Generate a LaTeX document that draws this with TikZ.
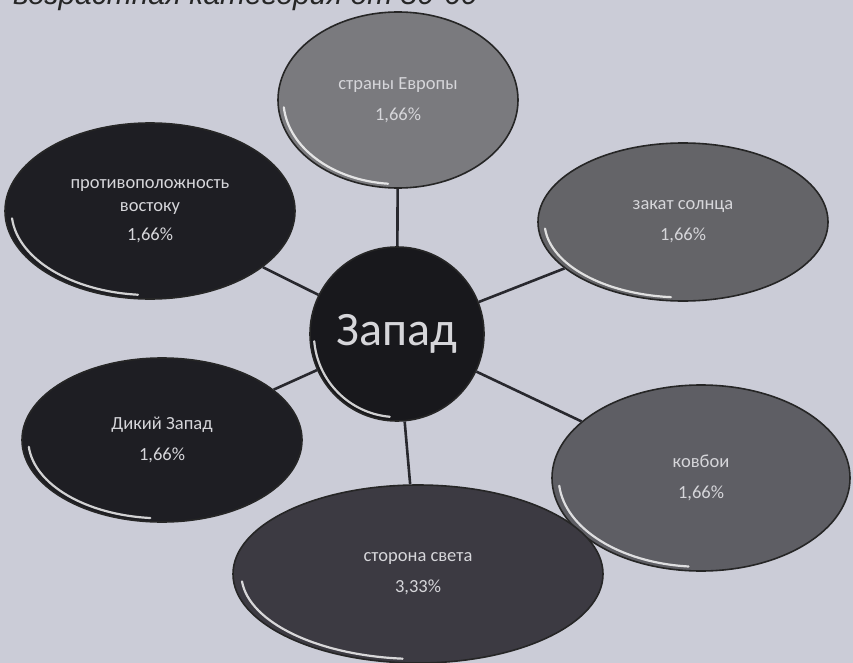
\documentclass[tikz,border=0pt]{standalone}
\usepackage{fontspec}
\setmainfont{Carlito}
\newfontfamily\capfont{Liberation Sans}
\usetikzlibrary{shapes.geometric}
\definecolor{bg}{RGB}{203,204,215}
\definecolor{txt}{RGB}{214,214,218}
\definecolor{linec}{RGB}{40,40,46}
\definecolor{gtop}{RGB}{122,122,126}
\definecolor{gsun}{RGB}{100,100,104}
\definecolor{gcow}{RGB}{94,94,100}
\definecolor{gside}{RGB}{60,58,66}
\definecolor{gdark}{RGB}{30,30,35}
\definecolor{gcent}{RGB}{24,24,28}
\newcommand\glint[3]{\draw[glintline] (#1.center) ++(175:#2*0.955 and #3*0.955) arc (175:95:#2*0.955 and #3*0.955);}
\begin{document}
\begin{tikzpicture}[x=1pt,y=-1pt,
  bubble/.style={ellipse,draw=black!85,line width=1.6pt,inner sep=0pt,align=center,text=txt,font=\fontsize{18.5}{31}\selectfont},
  conn/.style={draw=linec,line width=2.6pt},
  glintline/.style={draw=white,opacity=0.8,line width=2.2pt,line cap=round}]
\useasboundingbox (0,0) rectangle (853,663);
\clip (0,0) rectangle (853,663);
\fill[bg] (0,0) rectangle (853,663);
\node[anchor=base west,inner sep=0pt,font=\capfont\itshape\fontsize{30}{30}\selectfont,text=black!85] (cap) at (13,5) {возрастная категория от 50-60};

\node[bubble,fill=gcent,minimum width=174pt,minimum height=174pt,font=\fontsize{48}{48}\selectfont] (c) at (397,334) {Запад};
\node[bubble,fill=gtop,minimum width=240pt,minimum height=176pt] (t) at (398,100) {страны Европы\\1,66\%};
\node[bubble,fill=gsun,minimum width=290pt,minimum height=158pt] (r1) at (683,222) {закат солнца\\1,66\%};
\node[bubble,fill=gdark,minimum width=290pt,minimum height=176pt,font=\fontsize{18.5}{23}\selectfont] (l1) at (150,211) {противоположность\\востоку\\[6pt]1,66\%};
\node[bubble,fill=gdark,minimum width=280pt,minimum height=164pt] (l2) at (162,440) {Дикий Запад\\1,66\%};
\node[bubble,fill=gcow,minimum width=298pt,minimum height=186pt] (r2) at (701,478) {ковбои\\1,66\%};
\node[bubble,fill=gside,minimum width=370pt,minimum height=178pt] (b) at (418,574) {сторона света\\3,33\%};

\draw[conn] (c) -- (t);
\draw[conn] (c) -- (r1);
\draw[conn] (c) -- (l1);
\draw[conn] (c) -- (l2);
\draw[conn] (c) -- (r2);
\draw[conn] (c) -- (b);

\glint{c}{87}{87}
\glint{t}{120}{88}
\glint{r1}{145}{79}
\glint{l1}{145}{88}
\glint{l2}{140}{82}
\glint{r2}{149}{93}
\glint{b}{185}{89}
\end{tikzpicture}
\end{document}
